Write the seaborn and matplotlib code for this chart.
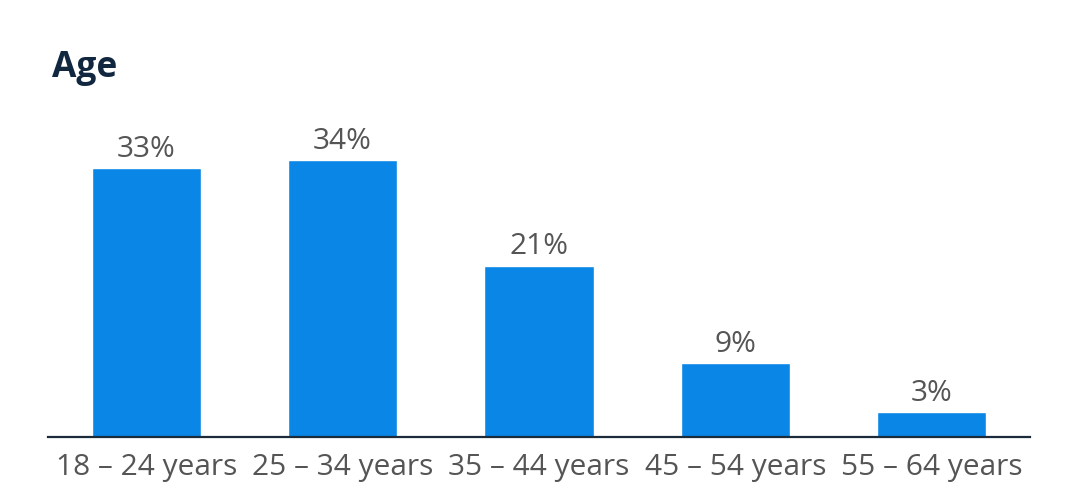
import matplotlib
matplotlib.use('Agg')
import matplotlib.pyplot as plt
import seaborn as sns
import pandas as pd

# Data
age_groups = ['18 – 24 years', '25 – 34 years', '35 – 44 years', '45 – 54 years', '55 – 64 years']
shares = [33, 34, 21, 9, 3]

def main():
    sns.set_style('white')
    plt.rcParams['font.family'] = ['Open Sans', 'DejaVu Sans']

    df = pd.DataFrame({'age': age_groups, 'share': shares})

    fig = plt.figure(figsize=(10.78, 5.02), dpi=100)
    ax = fig.add_axes([48 / 1078, 64.5 / 502, 982 / 1078, 325 / 502])

    sns.barplot(data=df, x='age', y='share', color='#0a86e6', saturation=1,
                width=0.555, ax=ax)

    ax.set_xlim(-0.5, len(age_groups) - 0.5)
    ax.set_ylim(0, 40)
    ax.set_xlabel('')
    ax.set_ylabel('')
    ax.set_yticks([])
    ax.tick_params(axis='x', length=0, pad=11, labelsize=21.5, labelcolor='#555555')

    for side in ['top', 'right', 'left']:
        ax.spines[side].set_visible(False)
    ax.spines['bottom'].set_color('#1c2b3a')
    ax.spines['bottom'].set_linewidth(1.6)

    ax.bar_label(ax.containers[0], labels=[f'{v}%' for v in shares],
                 padding=4, fontsize=21.5, color='#555555')

    fig.text(52 / 1078, 1 - 68 / 502, 'Age', fontsize=25.5, fontweight='bold',
             color='#112740', va='center', ha='left')

    fig.savefig('out.png', dpi=100, facecolor='white')

if __name__ == '__main__':
    main()
